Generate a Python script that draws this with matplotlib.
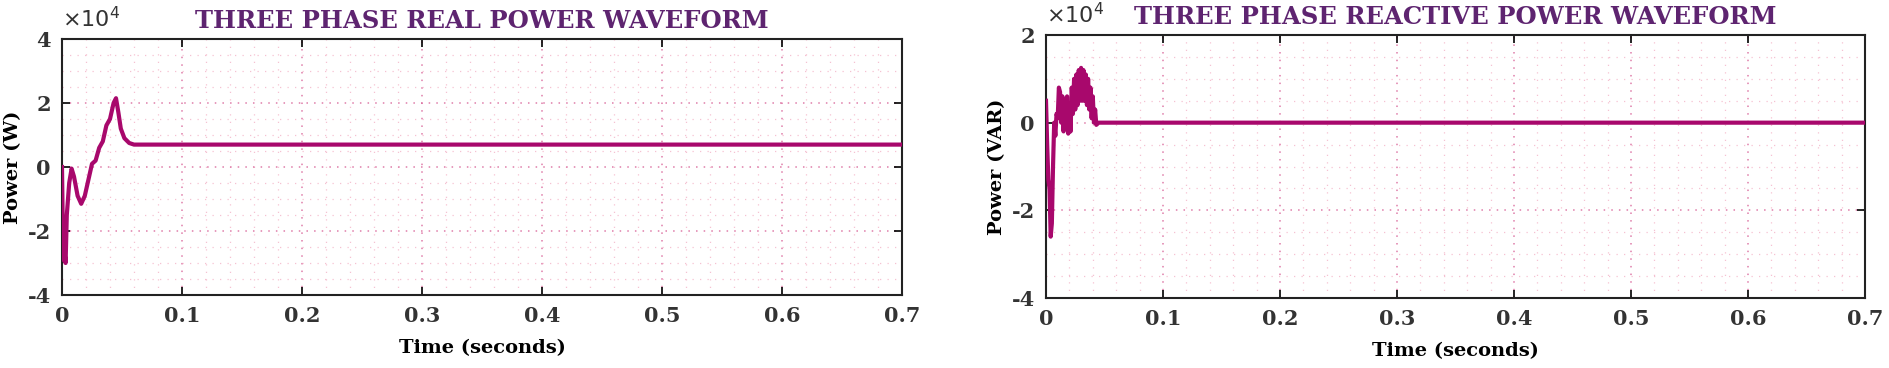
import numpy as np
import matplotlib
matplotlib.use("Agg")
import matplotlib.pyplot as plt
from matplotlib.ticker import MultipleLocator, FuncFormatter

# real power (W) vs time (s)
t_p = [0, 0.001, 0.002, 0.003, 0.004, 0.006, 0.008, 0.010, 0.013, 0.016, 0.019,
       0.022, 0.025, 0.028, 0.031, 0.034, 0.037, 0.040, 0.043, 0.045, 0.047,
       0.049, 0.052, 0.056, 0.060, 0.065, 0.7]
p = [0, -29000, -26000, -30000, -15000, -5000, -500, -3000, -9000, -11500, -9000,
     -4000, 1000, 2000, 6000, 8000, 13000, 15000, 20000, 21500, 17000,
     12000, 9000, 7500, 7000, 7000, 7000]

# reactive power (VAR) vs time (s)
t_q = [0.000, 0.001, 0.002, 0.003, 0.004, 0.005, 0.006, 0.007, 0.008, 0.009,
       0.010, 0.011, 0.012, 0.013, 0.014, 0.015, 0.016, 0.017, 0.018, 0.019,
       0.020, 0.021, 0.022, 0.023, 0.024, 0.025, 0.026, 0.027, 0.028, 0.029,
       0.030, 0.031, 0.032, 0.033, 0.034, 0.035, 0.036, 0.037, 0.038, 0.039,
       0.040, 0.041, 0.042, 0.043, 0.045, 0.7]
q = [5000, -5000, -13000, -15000, -26000, -23000, -10000, 0, -3000, 2000,
     1000, 8000, 7000, 0, 6000, -2000, 5000, -1000, 6000, -2500,
     4000, -2000, 8000, 2000, 10000, 3000, 11000, 4000, 12000, 5000,
     12500, 5000, 12000, 5000, 11000, 4000, 10000, 3000, 8000, 1000,
     6000, 0, 3000, -500, 0, 0]

x_ticks = [0, 0.1, 0.2, 0.3, 0.4, 0.5, 0.6, 0.7]
titles = ["THREE PHASE REAL POWER WAVEFORM", "THREE PHASE REACTIVE POWER WAVEFORM"]
ylabels = ["Power (W)", "Power (VAR)"]
ylims = [(-40000, 40000), (-40000, 20000)]

line_c = "#a8086c"
title_c = "#5e2470"
serif = "DejaVu Serif"

fig = plt.figure(figsize=(18.9, 3.68), dpi=100)
ax1 = fig.add_axes([62/1890, 1-295/368, 840/1890, 256/368])
ax2 = fig.add_axes([1046/1890, 1-298/368, 819/1890, 263/368])

for ax, t, y, ttl, yl, lim in zip([ax1, ax2], [t_p, t_q], [p, q], titles, ylabels, ylims):
    ax.plot(t, y, color=line_c, lw=3.0, zorder=3)
    ax.set_xlim(0, 0.7)
    ax.set_ylim(*lim)
    ax.set_xticks(x_ticks)
    ax.xaxis.set_minor_locator(MultipleLocator(0.02))
    ax.yaxis.set_major_locator(MultipleLocator(20000))
    ax.yaxis.set_minor_locator(MultipleLocator(5000))
    ax.yaxis.set_major_formatter(FuncFormatter(lambda v, pos: "%g" % (v / 1e4)))
    ax.xaxis.set_major_formatter(FuncFormatter(lambda v, pos: "%g" % v))
    ax.grid(which="major", color="#d9669a", ls=(0, (1, 4)), lw=1.1, alpha=0.85)
    ax.grid(which="minor", color="#f2a8c0", ls=(0, (1, 5)), lw=0.9, alpha=0.7)
    ax.tick_params(which="major", direction="in", length=6, width=1.2,
                   top=True, right=True, labelsize=15, pad=8)
    ax.tick_params(which="minor", length=0)
    for lab in ax.get_xticklabels() + ax.get_yticklabels():
        lab.set_fontfamily(serif)
        lab.set_fontweight("bold")
        lab.set_color("#333333")
    for s in ax.spines.values():
        s.set_linewidth(1.5)
        s.set_color("#222222")
    ax.set_title(ttl, fontsize=17.5, fontweight="bold", family=serif, color=title_c, pad=8)
    ax.set_xlabel("Time (seconds)", fontsize=14, fontweight="bold", family=serif, labelpad=9)
    ax.set_ylabel(yl, fontsize=14, fontweight="bold", family=serif, labelpad=4)
    ax.text(0.0, 1.03, r"$\times10^4$", transform=ax.transAxes, fontsize=16,
            color="#333333", ha="left", va="bottom")

fig.savefig("out.png", dpi=100)
